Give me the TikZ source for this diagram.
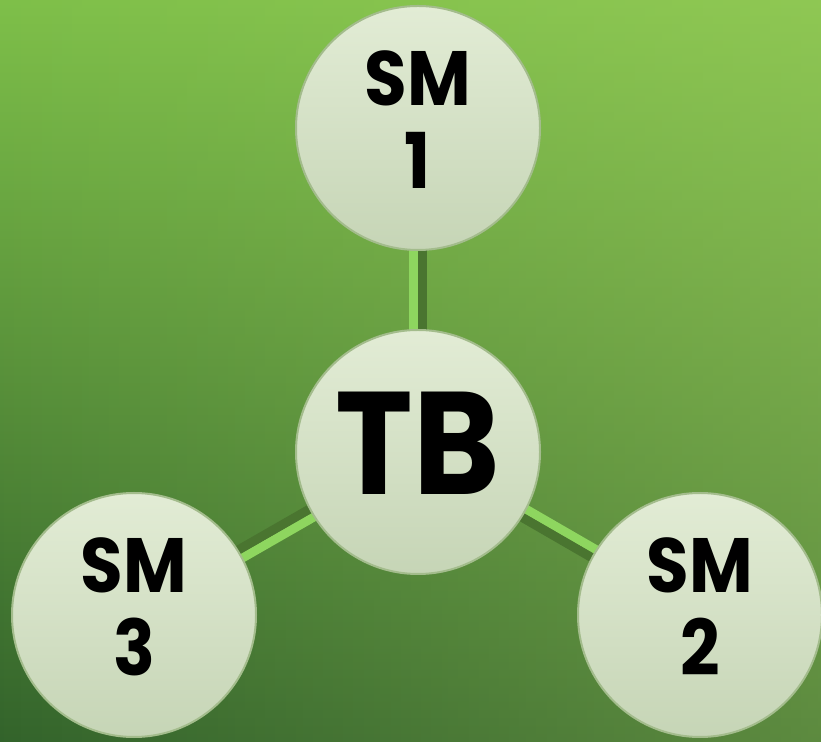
\documentclass[tikz,border=0pt]{standalone}
\usepackage{fontspec}
\setmainfont{Poppins}[FakeStretch=0.9]
\usetikzlibrary{calc,backgrounds,fadings}

\definecolor{bgtop}{HTML}{80C24A}
\definecolor{bgmid}{HTML}{66A43B}
\definecolor{bgbot}{HTML}{30602A}
\definecolor{bglight}{HTML}{B0D868}
\definecolor{barlight}{HTML}{8ED65F}
\definecolor{bardark}{HTML}{4A7530}
\definecolor{discfill}{HTML}{E2ECD5}
\definecolor{disclow}{HTML}{C6D5B6}
\definecolor{discrim}{HTML}{A3BC8C}

\tikzfading[name=fadeleft, left color=transparent!100, right color=transparent!0]

\begin{document}
\begin{tikzpicture}[x=1pt, y=1pt,
    disc/.style={circle, draw=discrim, line width=2pt,
        top color=discfill, bottom color=disclow,
        minimum size=244pt, inner sep=0pt, align=center,
        font=\bfseries\fontsize{77}{83}\selectfont, text depth=16pt},
    hub/.style={disc, font=\bfseries\fontsize{146}{150}\selectfont, text depth=18pt},
    halfbar/.style={line width=9pt}
]
    \useasboundingbox (0,0) rectangle (821,741);
    \node[hub] (tb) at (418,289) {TB};
    \node[disc] (sm1) at (418,613) {SM\\1};
    \node[disc] (sm2) at (700,126) {SM\\2};
    \node[disc] (sm3) at (134,126) {SM\\3};
    % background and the bars behind the discs
    \begin{scope}[on background layer]
        \fill[top color=bgtop, middle color=bgmid, bottom color=bgbot] (-20,-20) rectangle (841,761);
        \fill[bglight, fill opacity=0.35, path fading=fadeleft] (-20,-20) rectangle (841,761);
        \foreach \leaf in {sm1,sm2,sm3} {
            \draw[halfbar, barlight] ($(tb)!4.5pt!90:(\leaf)$) -- ($(\leaf)!4.5pt!-90:(tb)$);
            \draw[halfbar, bardark] ($(tb)!4.5pt!-90:(\leaf)$) -- ($(\leaf)!4.5pt!90:(tb)$);
        }
    \end{scope}
\end{tikzpicture}
\end{document}
